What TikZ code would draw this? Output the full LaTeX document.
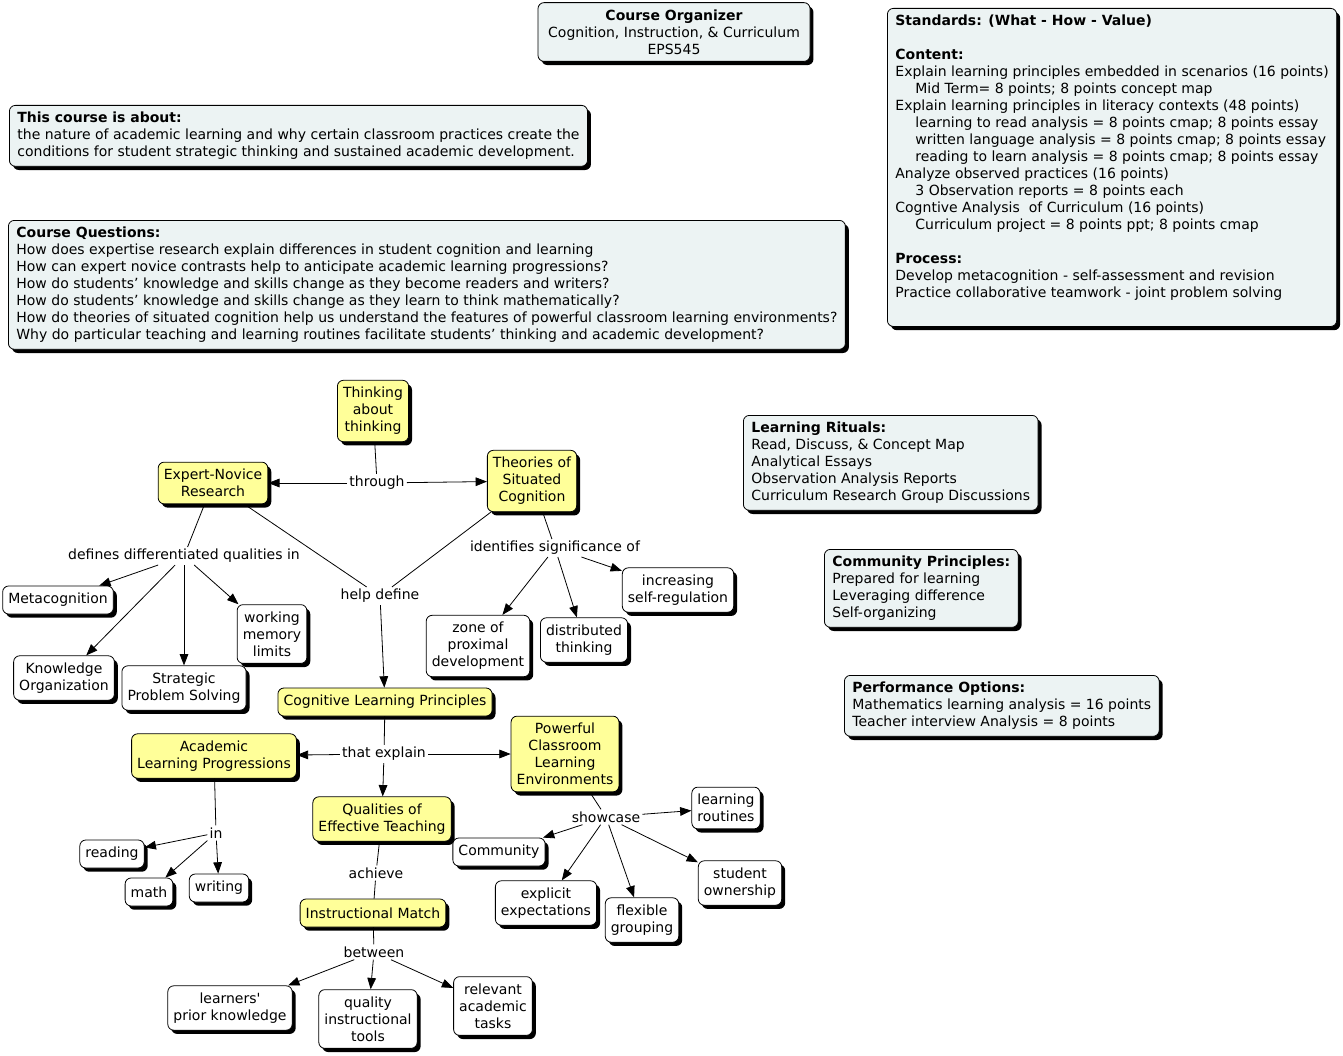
\documentclass[tikz,border=0pt]{standalone}
\usepackage{fontspec}
\setmainfont{DejaVu Sans}
\usetikzlibrary{arrows.meta,shadows}
\definecolor{conceptyellow}{RGB}{255,255,153}
\definecolor{infogray}{RGB}{236,243,243}
\newcommand{\ind}{\hspace*{15pt}}

\begin{document}
\begin{tikzpicture}[
  x=0.75pt, y=-0.75pt,
  font=\fontsize{10.5}{12.75}\selectfont,
  box/.style={
    rectangle, draw, rounded corners=4.5pt, line width=0.6pt,
    fill=white, inner xsep=4.2pt, inner ysep=5.2pt,
    minimum height=21pt, align=center,
    drop shadow={shadow xshift=2.6pt, shadow yshift=-2.8pt, fill=black, opacity=1}
  },
  concept/.style={box, fill=conceptyellow},
  info/.style={
    box, fill=infogray, anchor=north west, align=left,
    inner xsep=6pt, inner ysep=5pt
  },
  link/.style={inner sep=1.5pt},
  arrow/.style={-{Triangle[length=8.5pt, width=6.5pt]}, line width=0.6pt},
  plain/.style={line width=0.6pt}
]
\useasboundingbox (0,0) rectangle (1343,1056);

% Information boxes
\node[box, fill=infogray, minimum width=204pt] (organizer) at (674,32)
  {\textbf{Course Organizer}\\Cognition, Instruction, \& Curriculum\\EPS545};
\node[info] (about) at (9,105)
  {\textbf{This course is about:}\\
   the nature of academic learning and why certain classroom practices create the\\
   conditions for student strategic thinking and sustained academic development.};
\node[info] (questions) at (8,220)
  {\textbf{Course Questions:}\\
   How does expertise research explain differences in student cognition and learning\\
   How can expert novice contrasts help to anticipate academic learning progressions?\\
   How do students’ knowledge and skills change as they become readers and writers?\\
   How do students’ knowledge and skills change as they learn to think mathematically?\\
   How do theories of situated cognition help us understand the features of powerful classroom learning environments?\\
   Why do particular teaching and learning routines facilitate students’ thinking and academic development?};
\node[info] (standards) at (887,8)
  {\textbf{Standards: (What - How - Value)}\\ \strut\\
   \textbf{Content:}\\
   Explain learning principles embedded in scenarios (16 points)\\
   \ind Mid Term= 8 points; 8 points concept map\\
   Explain learning principles in literacy contexts (48 points)\\
   \ind learning to read analysis = 8 points cmap; 8 points essay\\
   \ind written language analysis = 8 points cmap; 8 points essay\\
   \ind reading to learn analysis = 8 points cmap; 8 points essay\\
   Analyze observed practices (16 points)\\
   \ind 3 Observation reports = 8 points each\\
   Cogntive Analysis\ \ of Curriculum (16 points)\\
   \ind Curriculum project = 8 points ppt; 8 points cmap\\ \strut\\
   \textbf{Process:}\\
   Develop metacognition - self-assessment and revision\\
   Practice collaborative teamwork - joint problem solving\\ \strut};
\node[info] (rituals) at (743,415)
  {\textbf{Learning Rituals:}\\
   Read, Discuss, \& Concept Map\\
   Analytical Essays\\
   Observation Analysis Reports\\
   Curriculum Research Group Discussions};
\node[info] (principles) at (824,549)
  {\textbf{Community Principles:}\\
   Prepared for learning\\
   Leveraging difference\\
   Self-organizing};
\node[info] (performance) at (844,675)
  {\textbf{Performance Options:}\\
   Mathematics learning analysis = 16 points\\
   Teacher interview Analysis = 8 points};

% Concepts
\node[concept] (think) at (373,411) {Thinking\\about\\thinking};
\node[concept] (expert) at (213,483) {Expert-Novice\\Research};
\node[concept] (theories) at (532,481) {Theories of\\Situated\\Cognition};
\node[box] (metacog) at (58,600) {Metacognition};
\node[box] (knoworg) at (64,678) {Knowledge\\Organization};
\node[box] (strategic) at (184,688) {Strategic\\Problem Solving};
\node[box] (working) at (272,634) {working\\memory\\limits};
\node[box] (zone) at (478,646) {zone of\\proximal\\development};
\node[box] (distrib) at (584,640) {distributed\\thinking};
\node[box] (selfreg) at (678,590) {increasing\\self-regulation};
\node[concept] (cogprin) at (385,702) {Cognitive Learning Principles};
\node[concept] (academic) at (214,756) {Academic\\Learning Progressions};
\node[concept] (powerful) at (565,754) {Powerful\\Classroom\\Learning\\Environments};
\node[concept] (qualities) at (382,819) {Qualities of\\Effective Teaching};
\node[box] (reading) at (112,854) {reading};
\node[box] (math) at (149,892) {math};
\node[box] (writing) at (219,888) {writing};
\node[box] (community) at (499,852) {Community};
\node[box] (routines) at (726,808) {learning\\routines};
\node[box] (ownership) at (740,883) {student\\ownership};
\node[box] (explicit) at (546,903) {explicit\\expectations};
\node[box] (flexible) at (642,920) {flexible\\grouping};
\node[concept] (match) at (373,913) {Instructional Match};
\node[box] (learners) at (230,1008) {learners\textquotesingle\\prior knowledge};
\node[box] (tools) at (368,1019) {quality\\instructional\\tools};
\node[box] (tasks) at (493,1006) {relevant\\academic\\tasks};

% Linking phrases
\node[link] (through) at (377,483) {through};
\node[link] (defines) at (184,556) {defines differentiated qualities in};
\node[link] (helpdef) at (380,596) {help define};
\node[link] (identifies) at (555,548) {identifies significance of};
\node[link] (explain) at (384,754) {that explain};
\node[link] (in) at (216,833) {in};
\node[link] (showcase) at (606,817) {showcase};
\node[link] (achieve) at (376,873) {achieve};
\node[link] (between) at (374,952) {between};

% Connectors
\draw[plain] (think) -- (through);
\draw[arrow] (through) -- (expert);
\draw[arrow] (through) -- (theories);
\draw[plain] (expert) -- (defines);
\draw[arrow] (defines) -- (metacog);
\draw[arrow] (defines) -- (knoworg);
\draw[arrow] (defines) -- (strategic);
\draw[arrow] (defines) -- (working);
\draw[plain] (expert) -- (helpdef);
\draw[plain] (theories) -- (helpdef);
\draw[arrow] (helpdef) -- (cogprin);
\draw[plain] (theories) -- (identifies);
\draw[arrow] (identifies) -- (zone);
\draw[arrow] (identifies) -- (distrib);
\draw[arrow] (identifies) -- (selfreg);
\draw[plain] (cogprin) -- (explain);
\draw[arrow] (explain) -- (academic);
\draw[arrow] (explain) -- (powerful);
\draw[arrow] (explain) -- (qualities);
\draw[plain] (academic) -- (in);
\draw[arrow] (in) -- (reading);
\draw[arrow] (in) -- (math);
\draw[arrow] (in) -- (writing);
\draw[plain] (powerful) -- (showcase);
\draw[arrow] (showcase) -- (community);
\draw[arrow] (showcase) -- (routines);
\draw[arrow] (showcase) -- (ownership);
\draw[arrow] (showcase) -- (explicit);
\draw[arrow] (showcase) -- (flexible);
\draw[plain] (qualities) -- (achieve);
\draw[plain] (achieve) -- (match);
\draw[plain] (match) -- (between);
\draw[arrow] (between) -- (learners);
\draw[arrow] (between) -- (tools);
\draw[arrow] (between) -- (tasks);

\end{tikzpicture}
\end{document}
